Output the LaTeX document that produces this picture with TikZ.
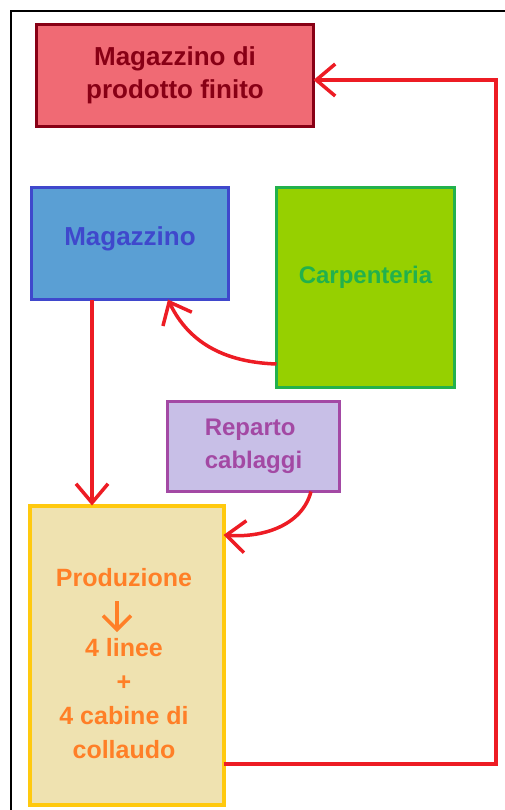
\documentclass[tikz,border=0pt]{standalone}
\usepackage{fontspec}
\setmainfont{Liberation Sans}
\usetikzlibrary{arrows.meta}
\definecolor{cRedFill}{HTML}{F06A74}
\definecolor{cRedDark}{HTML}{880015}
\definecolor{cBlueFill}{HTML}{5A9FD4}
\definecolor{cBlueDark}{HTML}{3F48CC}
\definecolor{cGreenFill}{HTML}{96D000}
\definecolor{cGreenDark}{HTML}{22B14C}
\definecolor{cLavFill}{HTML}{C8BFE7}
\definecolor{cPurple}{HTML}{A349A4}
\definecolor{cTanFill}{HTML}{EFE2B0}
\definecolor{cGold}{HTML}{FFC90E}
\definecolor{cOrange}{HTML}{FF7F27}
\definecolor{cLink}{HTML}{ED1C24}
\tikzset{
  box/.style={rectangle, line width=3.5pt, inner sep=0pt, outer sep=0pt,
    font=\fontsize{26}{33}\selectfont\bfseries, align=center},
  link/.style={draw=cLink, line width=3.5pt,
    -{Straight Barb[length=19pt,width=32pt,line width=3.5pt]}},
}
\begin{document}
\begin{tikzpicture}[x=1pt,y=-1pt]
\useasboundingbox (0,0) rectangle (505,810);
% frame
\draw[line width=2pt] (11,810) -- (11,11) -- (505,11);
% boxes
\node[box, fill=cRedFill, draw=cRedDark, text=cRedDark,
  minimum width=277pt, minimum height=102pt] (pf) at (175,75.5)
  {Magazzino di\\prodotto finito};
\node[box, fill=cBlueFill, draw=cBlueDark, text=cBlueDark,
  minimum width=197pt, minimum height=112pt, text depth=14pt] (mag) at (130,243.5)
  {Magazzino};
\node[box, fill=cGreenFill, draw=cGreenDark, text=cGreenDark,
  minimum width=178pt, minimum height=200pt, text depth=25pt,
  font=\fontsize{24}{30}\selectfont\bfseries] (carp) at (365.5,287.5)
  {Carpenteria};
\node[box, fill=cLavFill, draw=cPurple, text=cPurple,
  minimum width=172pt, minimum height=90pt, align=left,
  font=\fontsize{24}{33}\selectfont\bfseries] (rep) at (253.5,446.5)
  {Reparto\\cablaggi};
\node[box, fill=cTanFill, draw=cGold, line width=4pt,
  minimum width=194pt, minimum height=299pt] (prod) at (126.5,655) {};
\node[inner sep=0pt, text=cOrange, align=center,
  font=\fontsize{25}{34}\selectfont\bfseries] (prodt) at (124,664)
  {Produzione\\[36pt]4 linee\\+\\4 cabine di\\collaudo};
\coordinate (arrA) at (117,601);
\coordinate (arrB) at (117,632);
\draw[draw=cOrange, line width=3.5pt,
  -{Straight Barb[length=14pt,width=28pt,line width=3.5pt]}] (arrA) -- (arrB);
% connectors
\draw[link] (mag.south -| 92,0) -- (prod.north -| 92,0);
\draw[link] (carp.west |- 0,364) .. controls (215,362) and (185,335) .. (mag.south -| 168,0);
\draw[link] (rep.south -| 311,0) .. controls (302,526) and (262,538) .. (prod.east |- 0,535);
\draw[link] (prod.east |- 0,764) -- (496,764) -- (496,80) -- (pf.east |- 0,80);
\end{tikzpicture}
\end{document}
